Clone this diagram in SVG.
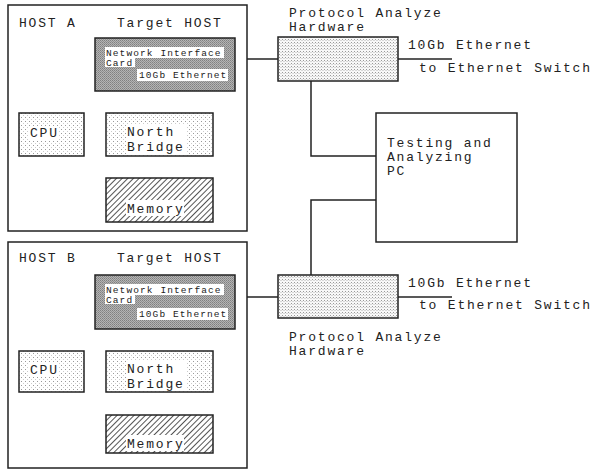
<svg xmlns="http://www.w3.org/2000/svg" width="599" height="470" viewBox="0 0 599 470">
<defs>
<pattern id="dots" width="4" height="4" patternUnits="userSpaceOnUse"><rect width="4" height="4" fill="#fff"/><rect x="1" y="1" width="1" height="1" fill="#999"/><rect x="3" y="3" width="1" height="1" fill="#ccc"/></pattern>
<pattern id="fine" width="3" height="3" patternUnits="userSpaceOnUse"><rect width="3" height="3" fill="#f8f8f8"/><rect x="0" y="0" width="1" height="1" fill="#999"/><rect x="1" y="1" width="2" height="1" fill="#d8d8d8"/></pattern>
<pattern id="dense" width="2" height="2" patternUnits="userSpaceOnUse"><rect width="2" height="2" fill="#b4b4b4"/><rect x="0" y="0" width="1" height="1" fill="#808080"/><rect x="1" y="1" width="1" height="1" fill="#909090"/></pattern>
<pattern id="hatch" width="4" height="4" patternUnits="userSpaceOnUse" patternTransform="rotate(45)"><rect width="4" height="4" fill="#fff"/><line x1="0.5" y1="0" x2="0.5" y2="4" stroke="#555" stroke-width="1"/></pattern>
</defs>
<style>
.box{stroke:#222;stroke-width:1.5}
.plain{fill:#fff}
.t{font-family:"Liberation Mono","DejaVu Sans Mono",monospace;font-size:13px;letter-spacing:1.8px;fill:#222}
.s{font-family:"Liberation Mono","DejaVu Sans Mono",monospace;font-size:9.5px;letter-spacing:1.1px;fill:#222}
.bg{fill:#fff}
.c{fill:none;stroke:#222;stroke-width:1.5}
</style>
<g id="connectors">
<polyline class="c" points="235,59 278,59"/>
<polyline class="c" points="398,59 452,59"/>
<polyline class="c" points="160,91 160,113"/>
<polyline class="c" points="84,135 106,135"/>
<polyline class="c" points="160,156 160,178"/>
<polyline class="c" points="311,81 311,156 376,156"/>
<polyline class="c" points="376,200 311,200 311,275"/>
<polyline class="c" points="235,297 278,297"/>
<polyline class="c" points="398,297 452,297"/>
<polyline class="c" points="160,329 160,351"/>
<polyline class="c" points="84,372 106,372"/>
<polyline class="c" points="160,392 160,415"/>
</g>
<g id="hostA">
<rect class="box plain" x="8" y="5" width="239" height="226"/>
<text class="t" x="19" y="27">HOST A</text>
<text class="t" x="117" y="27">Target HOST</text>
</g>
<g id="nicA">
<rect class="box" fill="url(#dense)" x="95" y="38" width="140" height="53"/>
<rect class="bg" x="105" y="47" width="119" height="11"/>
<rect class="bg" x="105" y="57" width="30" height="10"/>
<rect class="bg" x="137" y="69" width="91" height="12"/>
<text class="s" x="106" y="56">Network Interface</text>
<text class="s" x="106" y="66">Card</text>
<text class="s" x="139" y="78">10Gb Ethernet</text>
</g>
<g id="cpuA">
<rect class="box" fill="url(#dots)" x="19" y="113" width="65" height="43"/>
<rect class="bg" x="29" y="126" width="30" height="14"/>
<text class="t" x="30" y="137">CPU</text>
</g>
<g id="nbA">
<rect class="box" fill="url(#dots)" x="106" y="113" width="107" height="43"/>
<rect class="bg" x="126" y="124" width="60" height="30"/>
<text class="t" x="127" y="136">North</text>
<text class="t" x="127" y="151">Bridge</text>
</g>
<g id="memA">
<rect class="box" fill="url(#hatch)" x="106" y="178" width="107" height="44"/>
<rect class="bg" x="126" y="200" width="58" height="16"/>
<text class="t" x="127" y="213">Memory</text>
</g>
<g id="protoA">
<text class="t" x="289" y="17">Protocol Analyze</text>
<text class="t" x="289" y="31">Hardware</text>
<rect class="box" fill="url(#fine)" x="278" y="37" width="120" height="44"/>
<text class="t" x="408" y="49">10Gb Ethernet</text>
<text class="t" x="419" y="72">to Ethernet Switch</text>
</g>
<g id="pc">
<rect class="box plain" x="376" y="113" width="141" height="129"/>
<text class="t" x="387" y="147">Testing and</text>
<text class="t" x="387" y="161">Analyzing</text>
<text class="t" x="387" y="175">PC</text>
</g>
<g id="hostB">
<rect class="box plain" x="8" y="242" width="239" height="226"/>
<text class="t" x="19" y="262">HOST B</text>
<text class="t" x="117" y="262">Target HOST</text>
</g>
<g id="nicB">
<rect class="box" fill="url(#dense)" x="95" y="275" width="140" height="54"/>
<rect class="bg" x="105" y="284" width="119" height="11"/>
<rect class="bg" x="105" y="294" width="30" height="10"/>
<rect class="bg" x="137" y="308" width="91" height="12"/>
<text class="s" x="106" y="293">Network Interface</text>
<text class="s" x="106" y="303">Card</text>
<text class="s" x="139" y="317">10Gb Ethernet</text>
</g>
<g id="cpuB">
<rect class="box" fill="url(#dots)" x="19" y="351" width="65" height="41"/>
<rect class="bg" x="29" y="363" width="30" height="14"/>
<text class="t" x="30" y="374">CPU</text>
</g>
<g id="nbB">
<rect class="box" fill="url(#dots)" x="106" y="351" width="107" height="41"/>
<rect class="bg" x="126" y="361" width="60" height="30"/>
<text class="t" x="127" y="373">North</text>
<text class="t" x="127" y="388">Bridge</text>
</g>
<g id="memB">
<rect class="box" fill="url(#hatch)" x="106" y="415" width="107" height="38"/>
<rect class="bg" x="126" y="435" width="58" height="16"/>
<text class="t" x="127" y="448">Memory</text>
</g>
<g id="protoB">
<rect class="box" fill="url(#fine)" x="278" y="275" width="120" height="43"/>
<text class="t" x="408" y="287">10Gb Ethernet</text>
<text class="t" x="419" y="309">to Ethernet Switch</text>
<text class="t" x="289" y="341">Protocol Analyze</text>
<text class="t" x="289" y="355">Hardware</text>
</g>
</svg>
